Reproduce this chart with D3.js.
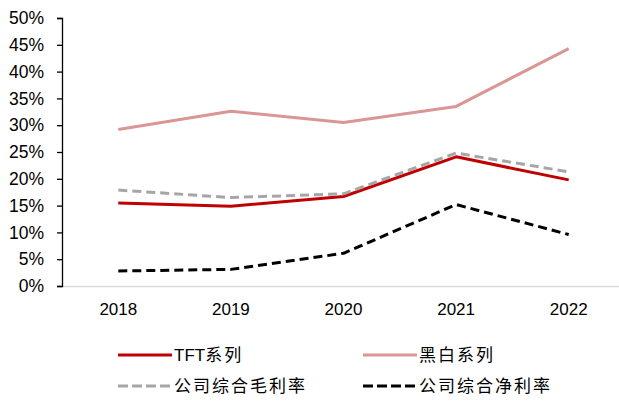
<!DOCTYPE html>
<html>
<head>
<meta charset="utf-8">
<script src="https://cdn.jsdelivr.net/npm/d3@7"></script>
<style>
  body { margin: 0; background: #fff; }
  svg text { font-family: "Liberation Sans", Arial, sans-serif; }
</style>
</head>
<body>
<script>
const years = ["2018", "2019", "2020", "2021", "2022"];
const tftValues = [15.5, 14.9, 16.7, 24.1, 19.8];      // TFT系列
const bwValues = [29.2, 32.6, 30.5, 33.5, 44.3];       // 黑白系列
const grossValues = [17.9, 16.5, 17.2, 24.8, 21.3];    // 公司综合毛利率
const netValues = [2.8, 3.1, 6.1, 15.2, 9.6];          // 公司综合净利率
const yTicks = [0, 5, 10, 15, 20, 25, 30, 35, 40, 45, 50];

const svgWidth = 619;
const svgHeight = 401;

const series = [
  {name: "TFT系列", values: tftValues, color: "#C00000", dash: null},
  {name: "黑白系列", values: bwValues, color: "#DA9694", dash: null},
  {name: "公司综合毛利率", values: grossValues, color: "#A6A6A6", dash: "9,5"},
  {name: "公司综合净利率", values: netValues, color: "#000000", dash: "9,5"}
];

const svg = d3.select("body").append("svg")
  .attr("width", svgWidth)
  .attr("height", svgHeight);

const xScale = d3.scaleBand().domain(years).range([62, 625]);
const yScale = d3.scaleLinear().domain([0, 50]).range([286, 18]);

// x-axis: light gray line, labels only
const xAxis = svg.append("g")
  .attr("transform", "translate(0,286)")
  .call(d3.axisBottom(xScale).tickSize(0).tickPadding(17));
xAxis.select(".domain").attr("stroke", "#D9D9D9").attr("stroke-width", 1.5);
xAxis.selectAll("text").attr("font-size", 17).attr("fill", "#000");

// y-axis
const yAxis = svg.append("g")
  .attr("transform", "translate(62,0)")
  .call(d3.axisLeft(yScale).tickValues(yTicks).tickSize(5).tickSizeOuter(5).tickPadding(13)
    .tickFormat(d => d + "%"));
yAxis.select(".domain").attr("stroke", "#000").attr("stroke-width", 1.3);
yAxis.selectAll(".tick line").attr("stroke", "#000").attr("stroke-width", 1.3);
yAxis.selectAll("text").attr("font-size", 17.5).attr("fill", "#000");

const line = d3.line()
  .x((d, i) => xScale(years[i]) + xScale.bandwidth() / 2)
  .y(d => yScale(d));

// draw in order so red sits over gray like the reference
[series[1], series[0], series[2], series[3]].forEach(s => {
  svg.append("path")
    .datum(s.values)
    .attr("d", line)
    .attr("fill", "none")
    .attr("stroke", s.color)
    .attr("stroke-width", 3)
    .attr("stroke-dasharray", s.dash)
    .attr("stroke-linejoin", "round");
});

// legend
const legendPos = [[118, 355], [363, 355], [118, 386], [363, 386]];
series.forEach((s, i) => {
  const g = svg.append("g").attr("transform", "translate(" + legendPos[i][0] + "," + legendPos[i][1] + ")");
  g.append("line")
    .attr("x1", 0).attr("x2", 54)
    .attr("y1", 0).attr("y2", 0)
    .attr("stroke", s.color)
    .attr("stroke-width", 3)
    .attr("stroke-dasharray", s.dash ? "10,4" : null);
  const t = g.append("text")
    .attr("x", 56)
    .attr("y", 0)
    .attr("dy", "0.36em")
    .attr("font-size", 17)
    .style("font-family", "'Liberation Sans', 'Noto Sans CJK SC', sans-serif");
  // latin part normal, CJK part spaced out
  const latin = s.name.match(/^[A-Za-z]*/)[0];
  if (latin) t.append("tspan").text(latin);
  t.append("tspan").attr("letter-spacing", 2).text(s.name.slice(latin.length));
});
</script>
</body>
</html>
